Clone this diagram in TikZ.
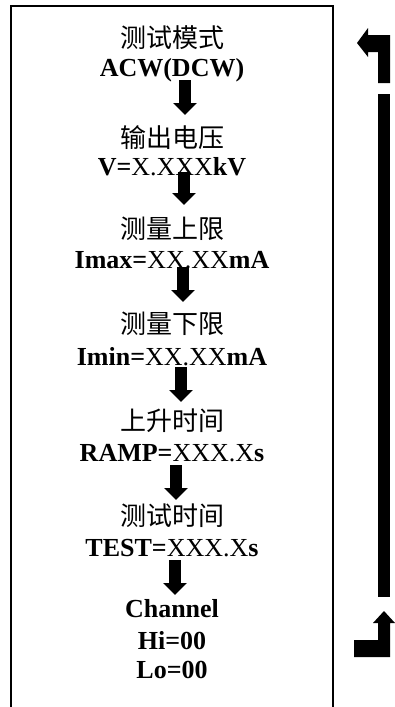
\documentclass[tikz,border=0pt]{standalone}
\usepackage{fontspec}
\setmainfont{Liberation Serif}
\newfontfamily\cjk{Noto Sans CJK SC}
\usetikzlibrary{arrows.meta,calc}
\begin{document}
\begin{tikzpicture}[x=1pt,y=-1pt,
  cjkt/.style={anchor=base,inner sep=0pt,font=\cjk\fontsize{26}{28}\selectfont},
  latt/.style={anchor=base,inner sep=0pt,font=\fontsize{26}{28}\selectfont},
  blk/.style={line width=12pt,-{Triangle[width=23pt,length=12pt]}},
  frame/.style={line width=2pt},
  sidemark/.style={fill=black}]
\fill[white] (0,0) rectangle (395,707);
\useasboundingbox (0,0) rectangle (395,707);
\draw[frame] (11,708) -- (11,6) -- (333,6) -- (333,708);
% texts
\node[cjkt] (c1) at (172,47) {测试模式};
\node[latt] (l1) at (172,76) {\textbf{ACW(DCW)}};
\node[cjkt] (c2) at (172,147) {输出电压};
\node[latt] (l2) at (172,175) {\textbf{V=}X.XXX\textbf{kV}};
\node[cjkt] (c3) at (172,238) {测量上限};
\node[latt] (l3) at (172,268) {\textbf{Imax=}XX.XX\textbf{mA}};
\node[cjkt] (c4) at (172,333) {测量下限};
\node[latt] (l4) at (172,365) {\textbf{Imin=}XX.XX\textbf{mA}};
\node[cjkt] (c5) at (172,430) {上升时间};
\node[latt] (l5) at (172,461) {\textbf{RAMP=}XXX.X\textbf{s}};
\node[cjkt] (c6) at (172,525) {测试时间};
\node[latt] (l6) at (172,556) {\textbf{TEST=}XXX.X\textbf{s}};
\node[latt] (ch) at (172,617) {\textbf{Channel}};
\node[latt] (hi) at (172,649) {\textbf{Hi=00}};
\node[latt] (lo) at (172,678) {\textbf{Lo=00}};
% arrows
\draw[blk] ($(l1.base)+(13,4)$) -- ($(c2.base)+(13,-32)$);
\draw[blk] ($(l2.base)+(12,-3)$) -- ($(c3.base)+(12,-33)$);
\draw[blk] ($(l3.base)+(11,-1)$) -- ($(c4.base)+(11,-31)$);
\draw[blk] ($(l4.base)+(9,2)$) -- ($(c5.base)+(9,-28)$);
\draw[blk] ($(l5.base)+(4,4)$) -- ($(c6.base)+(4,-25)$);
\draw[blk] ($(l6.base)+(3,4)$) -- ($(ch.base)+(3,-22)$);
% right side loop-back marks
\fill[sidemark] (357,43) -- (368,28) -- (368,35) -- (390,35) -- (390,83) -- (378,83)
  -- (378,52) -- (368,52) -- (368,57) -- cycle;
\fill[sidemark] (378,94) rectangle (390,597);
\fill[sidemark] (384,611) -- (395,623) -- (390,623) -- (390,657) -- (354,657) -- (354,640)
  -- (378,640) -- (378,623) -- (373,623) -- cycle;
\end{tikzpicture}
\end{document}
